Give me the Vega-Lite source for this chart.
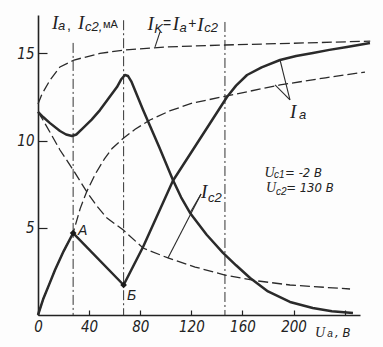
{
  "$schema": "https://vega.github.io/schema/vega-lite/v6.json",
  "width": 322,
  "height": 300,
  "autosize": "none",
  "padding": {"left": 38, "top": 15, "right": 23, "bottom": 32},
  "background": "#fdfdfd",
  "config": {"view": {"stroke": null}},
  "datasets": {
    "curves": [
      {"s": "Ia", "u": 0, "v": 0}, {"s": "Ia", "u": 4, "v": 0.9}, {"s": "Ia", "u": 9, "v": 1.8}, {"s": "Ia", "u": 13.3, "v": 2.58}, {"s": "Ia", "u": 20, "v": 3.65}, {"s": "Ia", "u": 27.5, "v": 4.7},
      {"s": "Ia", "u": 67, "v": 1.72}, {"s": "Ia", "u": 82.2, "v": 3.9}, {"s": "Ia", "u": 105.6, "v": 7.7}, {"s": "Ia", "u": 147.9, "v": 12.5}, {"s": "Ia", "u": 155, "v": 13.15}, {"s": "Ia", "u": 163.6, "v": 13.76}, {"s": "Ia", "u": 175, "v": 14.2}, {"s": "Ia", "u": 189.4, "v": 14.62}, {"s": "Ia", "u": 202, "v": 14.85}, {"s": "Ia", "u": 215.2, "v": 15.02}, {"s": "Ia", "u": 228, "v": 15.2}, {"s": "Ia", "u": 241.8, "v": 15.37}, {"s": "Ia", "u": 259.8, "v": 15.6},
      {"s": "Ic2", "u": 0, "v": 11.65}, {"s": "Ic2", "u": 4, "v": 11.35}, {"s": "Ic2", "u": 9.4, "v": 11.0}, {"s": "Ic2", "u": 17.2, "v": 10.55}, {"s": "Ic2", "u": 22, "v": 10.35}, {"s": "Ic2", "u": 26.6, "v": 10.26}, {"s": "Ic2", "u": 30, "v": 10.35}, {"s": "Ic2", "u": 35, "v": 10.7}, {"s": "Ic2", "u": 42, "v": 11.2}, {"s": "Ic2", "u": 48.5, "v": 11.75}, {"s": "Ic2", "u": 55, "v": 12.4}, {"s": "Ic2", "u": 61.8, "v": 13.07}, {"s": "Ic2", "u": 65, "v": 13.5}, {"s": "Ic2", "u": 68, "v": 13.76}, {"s": "Ic2", "u": 70.5, "v": 13.7}, {"s": "Ic2", "u": 73, "v": 13.4}, {"s": "Ic2", "u": 82, "v": 11.8}, {"s": "Ic2", "u": 95, "v": 9.6}, {"s": "Ic2", "u": 105.6, "v": 7.74}, {"s": "Ic2", "u": 112, "v": 6.75}, {"s": "Ic2", "u": 119, "v": 5.85}, {"s": "Ic2", "u": 132, "v": 4.6}, {"s": "Ic2", "u": 144.8, "v": 3.56}, {"s": "Ic2", "u": 155, "v": 2.85}, {"s": "Ic2", "u": 166, "v": 2.12}, {"s": "Ic2", "u": 180, "v": 1.35}, {"s": "Ic2", "u": 197.2, "v": 0.75}, {"s": "Ic2", "u": 215, "v": 0.4}, {"s": "Ic2", "u": 230, "v": 0.22}, {"s": "Ic2", "u": 246.5, "v": 0.11},
      {"s": "Ik", "u": 0, "v": 12.1}, {"s": "Ik", "u": 3, "v": 12.65}, {"s": "Ik", "u": 9.4, "v": 13.47}, {"s": "Ik", "u": 17.2, "v": 14.22}, {"s": "Ik", "u": 28.2, "v": 14.62}, {"s": "Ik", "u": 48.5, "v": 15.0}, {"s": "Ik", "u": 67.3, "v": 15.19}, {"s": "Ik", "u": 101, "v": 15.37}, {"s": "Ik", "u": 146.3, "v": 15.48}, {"s": "Ik", "u": 200, "v": 15.58}, {"s": "Ik", "u": 260, "v": 15.7},
      {"s": "Ia0", "u": 0, "v": 0}, {"s": "Ia0", "u": 4, "v": 0.9}, {"s": "Ia0", "u": 9, "v": 1.8}, {"s": "Ia0", "u": 13.3, "v": 2.58}, {"s": "Ia0", "u": 20, "v": 3.65}, {"s": "Ia0", "u": 27.5, "v": 4.7}, {"s": "Ia0", "u": 33, "v": 6.1}, {"s": "Ia0", "u": 38.1, "v": 7.07}, {"s": "Ia0", "u": 45, "v": 8.1}, {"s": "Ia0", "u": 52, "v": 8.95}, {"s": "Ia0", "u": 58, "v": 9.55}, {"s": "Ia0", "u": 66.8, "v": 10.13}, {"s": "Ia0", "u": 76, "v": 10.65}, {"s": "Ia0", "u": 87.6, "v": 11.18}, {"s": "Ia0", "u": 103, "v": 11.7}, {"s": "Ia0", "u": 121.3, "v": 12.16}, {"s": "Ia0", "u": 147.9, "v": 12.56}, {"s": "Ia0", "u": 189.4, "v": 13.19}, {"s": "Ia0", "u": 225, "v": 13.6}, {"s": "Ia0", "u": 255.9, "v": 13.93},
      {"s": "Ic20", "u": 0, "v": 11.65}, {"s": "Ic20", "u": 3.9, "v": 11.18}, {"s": "Ic20", "u": 10, "v": 10.4}, {"s": "Ic20", "u": 17.2, "v": 9.46}, {"s": "Ic20", "u": 27.6, "v": 8.31}, {"s": "Ic20", "u": 38.1, "v": 7.07}, {"s": "Ic20", "u": 46, "v": 6.25}, {"s": "Ic20", "u": 54, "v": 5.56}, {"s": "Ic20", "u": 66.8, "v": 4.87}, {"s": "Ic20", "u": 82.2, "v": 3.84}, {"s": "Ic20", "u": 101.7, "v": 3.27}, {"s": "Ic20", "u": 123, "v": 2.75}, {"s": "Ic20", "u": 146.3, "v": 2.29}, {"s": "Ic20", "u": 170, "v": 1.97}, {"s": "Ic20", "u": 197.2, "v": 1.72}, {"s": "Ic20", "u": 244.2, "v": 1.49}
    ],
    "guides": [
      {"u": 27.5, "top": 15.6},
      {"u": 67, "top": 16.9},
      {"u": 146.3, "top": 16.8}
    ],
    "leaders": [
      {"g": "k", "u": 95.5, "v": 16.23}, {"g": "k", "u": 91.6, "v": 15.37},
      {"g": "a1", "u": 189.4, "v": 14.62}, {"g": "a1", "u": 197.2, "v": 12.33},
      {"g": "a2", "u": 185.5, "v": 13.19}, {"g": "a2", "u": 197.2, "v": 12.33},
      {"g": "c1", "u": 118.9, "v": 5.85}, {"g": "c1", "u": 127.6, "v": 6.94},
      {"g": "c2", "u": 101.7, "v": 3.27}, {"g": "c2", "u": 127.6, "v": 6.94}
    ],
    "points": [
      {"name": "А", "u": 27.5, "v": 4.7},
      {"name": "Б", "u": 67, "v": 1.72}
    ],
    "bigI": [
      {"t": "I", "u": 10.96, "v": 16.4},
      {"t": "I", "u": 31.3, "v": 16.4},
      {"t": "I", "u": 85.6, "v": 16.35},
      {"t": "I", "u": 105.5, "v": 16.34},
      {"t": "I", "u": 124.6, "v": 16.28},
      {"t": "I", "u": 197.2, "v": 11.3},
      {"t": "I", "u": 127.6, "v": 6.71}
    ],
    "subs": [
      {"t": "a", "u": 15.65, "v": 16.34},
      {"t": "c2,", "u": 36.8, "v": 16.28},
      {"t": "K", "u": 91.0, "v": 16.17},
      {"t": "a", "u": 110.8, "v": 16.25},
      {"t": "c2", "u": 130.2, "v": 16.23},
      {"t": "a", "u": 204.3, "v": 11.24},
      {"t": "c2", "u": 133.0, "v": 6.48}
    ],
    "plain": [
      {"t": ",", "u": 22.7, "v": 16.34},
      {"t": "=", "u": 97.8, "v": 16.43},
      {"t": "+", "u": 117.6, "v": 16.43}
    ],
    "units": [
      {"t": "мА", "u": 50.9, "v": 16.45}
    ],
    "marks": [
      {"t": "A", "u": 31.3, "v": 4.59},
      {"t": "Б", "u": 69.6, "v": 0.86}
    ],
    "formulaU": [
      {"t": "U", "u": 177.2, "v": 7.93},
      {"t": "U", "u": 178.4, "v": 7.03},
      {"t": "U", "u": 216.8, "v": -1.26}
    ],
    "formulaSub": [
      {"t": "c1", "u": 184.6, "v": 7.84},
      {"t": "c2", "u": 186.3, "v": 6.9},
      {"t": "a", "u": 226.4, "v": -1.26}
    ],
    "formulaRest": [
      {"t": "= -2 В", "u": 193.4, "v": 7.93},
      {"t": "= 130 В", "u": 194.2, "v": 7.03},
      {"t": ", В", "u": 232.4, "v": -1.26}
    ]
  },
  "encoding": {
    "x": {
      "field": "u", "type": "quantitative",
      "scale": {"domain": [0, 252], "nice": false, "zero": false},
      "axis": {
        "values": [0, 40, 80, 120, 160, 200, 240],
        "labelExpr": "datum.value == 240 ? '' : datum.label",
        "title": null, "grid": false,
        "tickSize": -5, "tickWidth": 1.2, "tickColor": "#222",
        "domainColor": "#222", "domainWidth": 1.6,
        "labelPadding": 9, "labelFlush": false, "labelOverlap": false,
        "labelFont": "Liberation Sans Narrow, DejaVu Sans Condensed, Liberation Sans",
        "labelFontSize": 15, "labelFontStyle": "italic", "labelColor": "#222"
      }
    },
    "y": {
      "field": "v", "type": "quantitative",
      "scale": {"domain": [0, 17.2], "nice": false, "zero": false},
      "axis": {
        "values": [5, 10, 15],
        "title": null, "grid": false,
        "tickSize": -9, "tickWidth": 1.2, "tickColor": "#222",
        "domainColor": "#222", "domainWidth": 1.6,
        "labelPadding": 13, "labelOverlap": false,
        "labelFont": "Liberation Sans Narrow, DejaVu Sans Condensed, Liberation Sans",
        "labelFontSize": 15, "labelFontStyle": "italic", "labelColor": "#222"
      }
    }
  },
  "layer": [
    {
      "data": {"name": "guides"},
      "mark": {"type": "rule", "color": "#333", "strokeWidth": 1, "strokeDash": [10, 3, 2, 3]},
      "encoding": {"y": {"field": "top", "type": "quantitative"}, "y2": {"datum": 0}}
    },
    {
      "data": {"name": "curves"},
      "transform": [{"filter": "datum.s == 'Ik' || datum.s == 'Ia0' || datum.s == 'Ic20'"}],
      "mark": {"type": "line", "color": "#2a2a2a", "strokeWidth": 1.3, "strokeDash": [10, 4]},
      "encoding": {"detail": {"field": "s"}}
    },
    {
      "data": {"name": "curves"},
      "transform": [{"filter": "datum.s == 'Ia' || datum.s == 'Ic2'"}],
      "mark": {"type": "line", "color": "#2a2a2a", "strokeWidth": 2.5, "strokeJoin": "round"},
      "encoding": {"detail": {"field": "s"}}
    },
    {
      "data": {"name": "leaders"},
      "mark": {"type": "line", "color": "#2a2a2a", "strokeWidth": 1.1},
      "encoding": {"detail": {"field": "g"}}
    },
    {
      "data": {"name": "points"},
      "mark": {"type": "point", "shape": "diamond", "filled": true, "color": "#1a1a1a", "size": 45, "opacity": 1},
      "encoding": {}
    },
    {
      "data": {"name": "bigI"},
      "mark": {"type": "text", "align": "left", "baseline": "alphabetic", "font": "Liberation Serif", "fontStyle": "italic", "fontSize": 19, "color": "#222"},
      "encoding": {"text": {"field": "t"}}
    },
    {
      "data": {"name": "subs"},
      "mark": {"type": "text", "align": "left", "baseline": "alphabetic", "font": "Liberation Sans", "fontStyle": "italic", "fontSize": 13, "color": "#222"},
      "encoding": {"text": {"field": "t"}}
    },
    {
      "data": {"name": "plain"},
      "mark": {"type": "text", "align": "left", "baseline": "alphabetic", "font": "Liberation Sans", "fontSize": 14, "color": "#222"},
      "encoding": {"text": {"field": "t"}}
    },
    {
      "data": {"name": "units"},
      "mark": {"type": "text", "align": "left", "baseline": "alphabetic", "font": "Liberation Sans", "fontSize": 11, "color": "#222"},
      "encoding": {"text": {"field": "t"}}
    },
    {
      "data": {"name": "marks"},
      "mark": {"type": "text", "align": "left", "baseline": "alphabetic", "font": "Liberation Sans", "fontStyle": "italic", "fontSize": 14, "color": "#222"},
      "encoding": {"text": {"field": "t"}}
    },
    {
      "data": {"name": "formulaU"},
      "mark": {"type": "text", "align": "left", "baseline": "alphabetic", "font": "Liberation Serif", "fontStyle": "italic", "fontSize": 14, "color": "#222"},
      "encoding": {"text": {"field": "t"}}
    },
    {
      "data": {"name": "formulaSub"},
      "mark": {"type": "text", "align": "left", "baseline": "alphabetic", "font": "Liberation Sans", "fontStyle": "italic", "fontSize": 10, "color": "#222"},
      "encoding": {"text": {"field": "t"}}
    },
    {
      "data": {"name": "formulaRest"},
      "mark": {"type": "text", "align": "left", "baseline": "alphabetic", "font": "Liberation Sans Narrow, DejaVu Sans Condensed, Liberation Sans", "fontStyle": "italic", "fontSize": 13, "color": "#222"},
      "encoding": {"text": {"field": "t"}}
    }
  ]
}
